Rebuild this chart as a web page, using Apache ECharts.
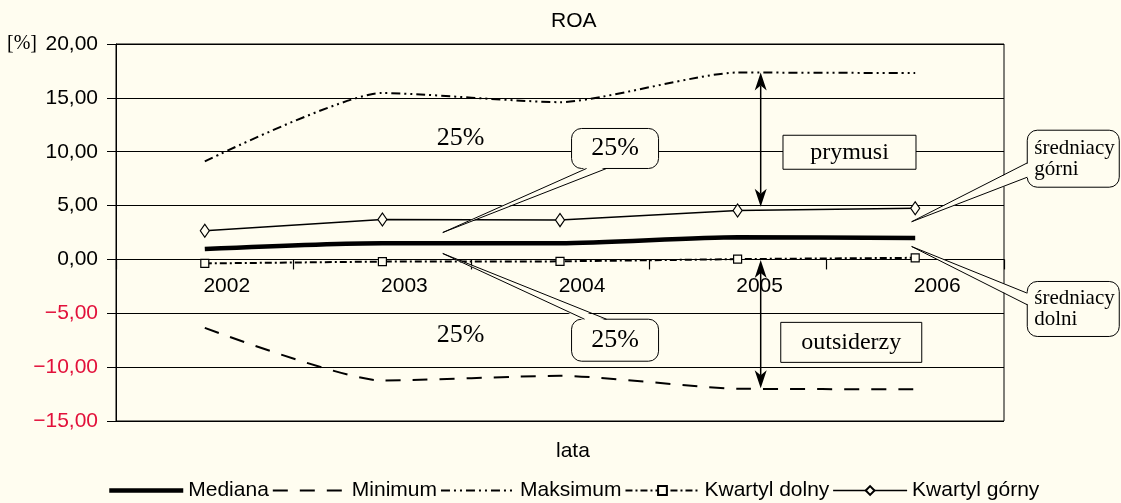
<!DOCTYPE html>
<html><head><meta charset="utf-8">
<script src="https://cdn.jsdelivr.net/npm/echarts@6/dist/echarts.min.js"></script>
<style>html,body{margin:0;padding:0;background:#fffdf0}#c{width:1121px;height:503px}</style>
</head><body><div id="c"></div>
<script>
// ---- data ----
const categories = ['2002', '2003', '2004', '2005', '2006'];
const mediana = [0.96, 1.5, 1.5, 2.05, 2.0];
const minimum = [-6.35, -11.25, -10.8, -12.0, -12.05];
const maksimum = [9.1, 15.45, 14.6, 17.35, 17.3];
const kwartylDolny = [-0.37, -0.2, -0.18, 0.03, 0.15];
const kwartylGorny = [2.66, 3.7, 3.65, 4.55, 4.75];
const seriesNames = ['Mediana', 'Minimum', 'Maksimum', 'Kwartyl dolny', 'Kwartyl górny'];
const yMin = -15, yMax = 20, yStep = 5;

// annotations, in data coordinates (x: category index, y: value)
const annotations = [
  {id: 'pctTop', kind: 'text', x: 1.44, y: 11.25, text: '25%'},
  {id: 'pctBottom', kind: 'text', x: 1.44, y: -7.05, text: '25%'},
  {id: 'calloutTop', kind: 'callout', x: 2.31, y: 10.3, tipX: 1.34, tipY: 2.5, text: '25%'},
  {id: 'calloutBottom', kind: 'callout', x: 2.31, y: -7.5, tipX: 1.34, tipY: 0.55, text: '25%'},
  {id: 'prymusi', kind: 'box', x: 3.63, y: 9.95, text: 'prymusi'},
  {id: 'outsiderzy', kind: 'box', x: 3.64, y: -7.7, text: 'outsiderzy'},
  {id: 'arrowTop', kind: 'arrow', x: 3.13, y: 17.35, y2: 4.9},
  {id: 'arrowBottom', kind: 'arrow', x: 3.13, y: -0.05, y2: -11.95},
  {id: 'sredniGorni', kind: 'callout', x: 4.89, y: 9.35, tipX: 3.98, tipY: 3.5, text: 'średniacy\ngórni'},
  {id: 'sredniDolni', kind: 'callout', x: 4.89, y: -4.6, tipX: 3.98, tipY: 1.2, text: 'średniacy\ndolni'}
];

// ---- styles ----
const BG = '#fffdf0';
const RED = '#e2103a';
const SANS = '"Liberation Sans", Arial, sans-serif';
const SERIF = '"Liberation Serif", "Times New Roman", serif';
const GRID = {left: 116, right: 117, top: 44, bottom: 82};
const CHART_H = 503;
const annotationStyles = {
  pctTop: {fontSize: 26},
  pctBottom: {fontSize: 26},
  calloutTop: {w: 87, h: 40, r: 10, side: 'bottom', base: [-28.5, -8.5], fontSize: 26},
  calloutBottom: {w: 87, h: 42, r: 10, side: 'top', base: [-30.5, -8.5], fontSize: 26},
  prymusi: {w: 133, h: 34, r: 0, fontSize: 24},
  outsiderzy: {w: 141, h: 40, r: 0, fontSize: 24},
  arrowTop: {headLength: 18, headWidth: 12, notch: 13},
  arrowBottom: {headLength: 18, headWidth: 12, notch: 13},
  sredniGorni: {w: 92, h: 57, r: 10, side: 'left', base: [4.2, 18.5], fontSize: 21, lineHeight: 21, align: 'left', pad: 7},
  sredniDolni: {w: 92, h: 55, r: 10, side: 'left', base: [-15.8, -4.2], fontSize: 21, lineHeight: 21, align: 'left', pad: 7}
};

function renderItem(params, api) {
  const a = annotations[params.dataIndex];
  const st = annotationStyles[a.id];
  const p = api.coord([a.x, a.y]);
  if (a.kind === 'text') {
    return {type: 'text', x: p[0], y: p[1], style: {text: a.text, fill: '#000', fontFamily: SERIF, fontSize: st.fontSize, align: 'center', verticalAlign: 'middle'}};
  }
  if (a.kind === 'arrow') {
    const q = api.coord([a.x, a.y2]);
    const x = p[0], y1 = p[1], y2 = q[1];
    const L = st.headLength, W = st.headWidth / 2, N = st.notch;
    return {type: 'group', children: [
      {type: 'line', shape: {x1: x, y1: y1 + N, x2: x, y2: y2 - N}, style: {stroke: '#000', lineWidth: 1.5}},
      {type: 'polygon', shape: {points: [[x, y1], [x - W, y1 + L], [x, y1 + N], [x + W, y1 + L]]}, style: {fill: '#000'}},
      {type: 'polygon', shape: {points: [[x, y2], [x - W, y2 - L], [x, y2 - N], [x + W, y2 - L]]}, style: {fill: '#000'}}
    ]};
  }
  const w = st.w, h = st.h;
  const left = p[0] - w / 2, top = p[1] - h / 2;
  const children = [{type: 'rect', shape: {x: left, y: top, width: w, height: h, r: st.r}, style: {fill: BG, stroke: '#000', lineWidth: 1}}];
  if (a.kind === 'callout') {
    const t = api.coord([a.tipX, a.tipY]);
    let b1, b2, c1, c2;
    if (st.side === 'bottom') {
      const y = top + h;
      b1 = [p[0] + st.base[0], y]; b2 = [p[0] + st.base[1], y];
      c1 = [b1[0], y - 1.5]; c2 = [b2[0], y - 1.5];
    } else if (st.side === 'top') {
      const y = top;
      b1 = [p[0] + st.base[0], y]; b2 = [p[0] + st.base[1], y];
      c1 = [b1[0], y + 1.5]; c2 = [b2[0], y + 1.5];
    } else {
      const x = left;
      b1 = [x, p[1] + st.base[0]]; b2 = [x, p[1] + st.base[1]];
      c1 = [x + 1.5, b1[1]]; c2 = [x + 1.5, b2[1]];
    }
    children.push({type: 'polygon', shape: {points: [c1, c2, t]}, style: {fill: BG}});
    children.push({type: 'polyline', shape: {points: [b1, t, b2]}, style: {stroke: '#000', fill: null, lineWidth: 1}});
  }
  const align = st.align || 'center';
  const tx = align === 'left' ? left + st.pad : p[0];
  children.push({type: 'text', x: tx, y: p[1], style: {text: a.text, fill: '#000', fontFamily: SERIF, fontSize: st.fontSize, lineHeight: st.lineHeight || st.fontSize, align: align, verticalAlign: 'middle'}});
  return {type: 'group', children: children};
}

function fmt(v) {
  v = Number(v);
  return (v < 0 ? '\u2212' : '') + Math.abs(v).toFixed(2).replace('.', ',');
}

// the category axis crosses the value axis at zero
const gridH = CHART_H - GRID.top - GRID.bottom;
const zeroOffset = -(0 - yMin) / (yMax - yMin) * gridH;

const noSymbol = {opacity: 0};
const chart = echarts.init(document.getElementById('c'), null, {renderer: 'canvas'});
const option = {
  backgroundColor: BG,
  animation: false,
  title: {text: 'ROA', left: 551, top: 11, padding: 0, textStyle: {fontFamily: SANS, fontSize: 21, fontWeight: 'normal', color: '#000'}},
  graphic: [
    {type: 'text', left: 7, top: 34, style: {text: '[%]', fontFamily: SERIF, fontSize: 20, fill: '#000'}},
    {type: 'text', left: 556, top: 441, style: {text: 'lata', fontFamily: SANS, fontSize: 21, fill: '#000'}}
  ],
  grid: {left: GRID.left, right: GRID.right, top: GRID.top, bottom: GRID.bottom, show: true, borderColor: '#000', borderWidth: 1, backgroundColor: 'transparent'},
  legend: {
    top: 480, left: 107, padding: 0, itemWidth: 74, itemHeight: 11, itemGap: 3,
    textStyle: {fontFamily: SANS, fontSize: 21, color: '#000'},
    lineStyle: {width: 'inherit'},
    data: [
      {name: seriesNames[0], itemStyle: noSymbol},
      {name: seriesNames[1], itemStyle: noSymbol},
      {name: seriesNames[2], itemStyle: noSymbol},
      {name: seriesNames[3]},
      {name: seriesNames[4]}
    ]
  },
  xAxis: [
    {type: 'category', data: categories, boundaryGap: true, position: 'bottom', offset: zeroOffset,
     axisLine: {onZero: false, lineStyle: {color: '#000', width: 1}},
     axisTick: {show: true, length: 10, lineStyle: {color: '#000', width: 1.2}},
     axisLabel: {margin: 16, color: '#000', fontFamily: SANS, fontSize: 21, padding: [0, 0, 0, 44]},
     splitLine: {show: false}},
    {type: 'value', min: -0.5, max: 4.5, show: false}
  ],
  yAxis: {
    type: 'value', min: yMin, max: yMax, interval: yStep,
    axisLine: {show: true, onZero: false, lineStyle: {color: '#000'}},
    axisTick: {show: true, length: 9, lineStyle: {color: '#000'}},
    axisLabel: {margin: 18, fontFamily: SANS, fontSize: 21, formatter: fmt, color: function (v) { return Number(v) < 0 ? RED : '#000'; }},
    splitLine: {lineStyle: {color: '#000', width: 1}}
  },
  series: [
    {name: seriesNames[0], type: 'line', data: mediana, symbol: 'none', smooth: 0.25, color: '#000',
     lineStyle: {color: '#000', width: 4.5}, z: 4},
    {name: seriesNames[1], type: 'line', data: minimum, symbol: 'none', smooth: 0.2, color: '#000',
     lineStyle: {color: '#000', width: 2, type: [15, 12]}, z: 3},
    {name: seriesNames[2], type: 'line', data: maksimum, symbol: 'none', smooth: 0.2, color: '#000',
     lineStyle: {color: '#000', width: 2, type: [9, 4, 2, 4, 2, 4]}, z: 3},
    {name: seriesNames[3], type: 'line', data: kwartylDolny, symbol: 'rect', symbolSize: 8, color: '#000',
     itemStyle: {color: BG, borderColor: '#000', borderWidth: 1.2},
     lineStyle: {color: '#000', width: 2, type: [7, 3, 2, 3]}, z: 3},
    {name: seriesNames[4], type: 'line', data: kwartylGorny, symbol: 'diamond', symbolSize: [9, 13], color: '#000',
     itemStyle: {color: BG, borderColor: '#000', borderWidth: 1.2},
     lineStyle: {color: '#000', width: 1.5}, z: 3},
    {type: 'custom', xAxisIndex: 1, yAxisIndex: 0, silent: true, clip: false, z: 10,
     data: annotations.map(function (a, i) { return [a.x, a.y, i]; }),
     renderItem: renderItem}
  ]
};
chart.setOption(option);
</script>
</body></html>
